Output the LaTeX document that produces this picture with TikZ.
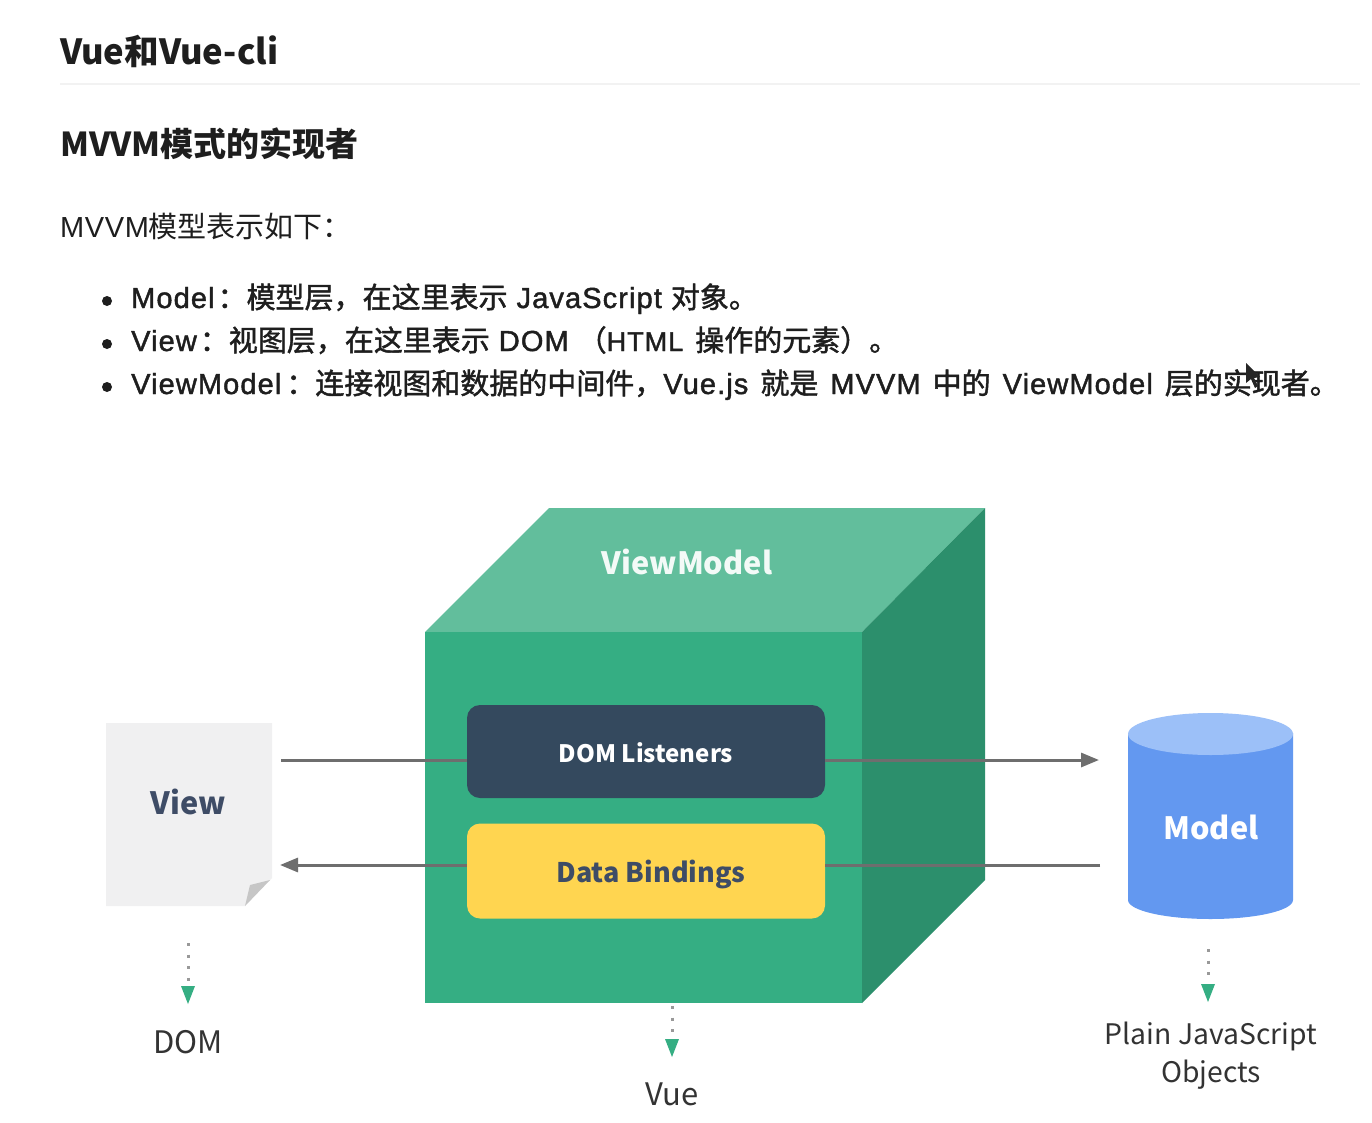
\documentclass[tikz,border=0pt]{standalone}
\usepackage{fontspec}
\setmainfont{Liberation Sans}[FakeBold=1.5,LetterSpace=3.8]
\newfontfamily\cjk{Noto Sans CJK SC}
\newfontfamily\cjkmed{Noto Sans CJK SC}[FakeBold=1.5]
\newfontfamily\plaintxt{Liberation Sans}[LetterSpace=2]
\newfontfamily\cjklight{Noto Sans CJK SC}
\newcommand{\zh}[1]{{\cjkmed\fontsize{29}{30}\selectfont #1}}
\newcommand{\zl}[1]{{\cjklight\fontsize{29}{30}\selectfont #1}}
\newcommand{\gp}{\hspace{9pt}}
\newcommand{\gq}{\hspace{12pt}}
\newcommand{\cl}{\hspace{3pt}}
\usetikzlibrary{arrows.meta,calc}
\definecolor{inkc}{HTML}{1E1E1E}
\definecolor{cubefront}{HTML}{35AE83}
\definecolor{cubetop}{HTML}{62BE9C}
\definecolor{cubeside}{HTML}{2C8F6C}
\definecolor{navybox}{HTML}{34495E}
\definecolor{yellowbox}{HTML}{FFD550}
\definecolor{paper}{HTML}{F0F0F1}
\definecolor{fold}{HTML}{C6C6C6}
\definecolor{cylbody}{HTML}{6398F0}
\definecolor{cyltop}{HTML}{9CC0F8}
\definecolor{linkgray}{HTML}{6E6E6E}
\definecolor{viewink}{HTML}{3E4C66}
\definecolor{caption}{HTML}{333333}
\tikzset{
  x=1pt,y=-1pt,
  txt/.style={anchor=base west,inner sep=0pt,text=inkc},
  itemtxt/.style={txt,font=\fontsize{29}{30}\selectfont},
  biglabel/.style={font=\cjk\bfseries\fontsize{30.7}{36}\selectfont,inner sep=0pt},
  smalllabel/.style={font=\cjk\bfseries\fontsize{24}{30}\selectfont,inner sep=0pt},
  midlabel/.style={font=\cjk\bfseries\fontsize{27}{32}\selectfont,inner sep=0pt},
  capt/.style={font=\cjk\fontsize{31}{38}\selectfont,text=caption,inner sep=0pt,align=center},
  link/.style={draw=linkgray,line width=3pt,-{Triangle[length=18pt,width=14pt,fill=linkgray]}},
  plain/.style={draw=linkgray,line width=3pt},
  dotlink/.style={draw=gray!80,line width=3pt,dash pattern=on 3pt off 8.6pt},
  tip/.style={fill=cubefront,draw=none},
  dotbullet/.style={circle,fill=inkc,inner sep=0pt,minimum size=10pt},
  innerbox/.style={rounded corners=13pt,minimum width=358pt,inner sep=0pt},
}
\begin{document}
\begin{tikzpicture}
\useasboundingbox[fill=white] (0,0) rectangle (1372,1123);
% headings
\node[txt,font=\cjk\bfseries\fontsize{34.6}{36}\selectfont] (title) at (60,65) {Vue和Vue-cli};
\fill[gray!10] (60,83) rectangle (1360,85);
\node[txt,font=\cjk\bfseries\fontsize{33}{36}\selectfont] (sub) at (60,157) {MVVM模式的实现者};
\node[txt,font=\plaintxt\fontsize{29}{30}\selectfont] (intro) at (60,237) {MVVM\zl{模型表示如下：}};
% list
\node[dotbullet] (b1) at (107,301) {};
\node[dotbullet] (b2) at (107,344) {};
\node[dotbullet] (b3) at (107,387) {};
\node[itemtxt] (i1) at (131,308) {Model\cl\zh{：模型层，在这里表示}\gp JavaScript\gp\zh{对象。}};
\node[itemtxt] (i2) at (131,351) {View\cl\zh{：视图层，在这里表示}\gp DOM\gp\zh{（}{\fontsize{27}{30}\selectfont HTML}\gq\zh{操作的元素）。}};
\node[itemtxt] (i3) at (131,394) {ViewModel\hspace{5pt}\zh{：连接视图和数据的中间件，}Vue.js\gq\zh{就是}\gq MVVM\gq\zh{中的}\gq ViewModel\gq\zh{层的实现者。}};
% cursor
\fill[black!85] (1246,363) -- (1246,383) -- (1251,379) -- (1255,388) -- (1258,386) -- (1254,378) -- (1260,377) -- cycle;
% cube
\fill[cubetop] (425,632) -- (549,508) -- (985,508) -- (862,632) -- cycle;
\fill[cubeside] (862,632) -- (985,508) -- (985,880) -- (862,1003) -- cycle;
\fill[cubefront] (425,632) rectangle (862,1003);
\node[biglabel,text=white!92!cubetop] (vm) at (687,562) {ViewModel};
% inner boxes
\node[innerbox,fill=navybox,minimum height=93pt] (listeners) at (646,751.5) {};
\node[smalllabel,text=white] (listlabel) at (646,753) {DOM Listeners};
\node[innerbox,fill=yellowbox,minimum height=95pt] (bindings) at (646,871) {};
\node[midlabel,text=viewink] (bindlabel) at (651,874) {Data Bindings};
% view page
\fill[paper] (106,723) -- (272,723) -- (272,878) -- (245,906) -- (106,906) -- cycle;
\fill[fold] (245,906) -- (250,885) -- (270,880) -- cycle;
\node[biglabel,text=viewink] (view) at (188,802) {View};
% cylinder
\fill[cylbody] (1128,733) -- (1128,900) arc[start angle=180,end angle=360,x radius=82.5pt,y radius=19pt] -- (1293,733) -- cycle;
\fill[cyltop] (1210.5,734) ellipse[x radius=82.5pt,y radius=21pt];
\node[biglabel,text=white] (model) at (1211,827) {Model};
% free ends
\coordinate (a1s) at (281,760);
\coordinate (a1e) at (1099,760);
\coordinate (a2e) at (280,865);
\coordinate (a2s) at (1100,865);
\draw[plain] (a1s) -- (a1s -| listeners.west);
\draw[link] (a1e -| listeners.east) -- (a1e);
\draw[link] (a2e -| bindings.west) -- (a2e);
\draw[plain] (a2s) -- (a2s -| bindings.east);
% captions
\node[capt] (dom) at (188,1042) {DOM};
\node[capt] (vue) at (672,1094) {Vue};
\node[capt,font=\cjk\fontsize{28.3}{38}\selectfont] (plain) at (1211,1056) {Plain JavaScript\\Objects};
% dotted pointers
\coordinate (d1) at (188,943);
\coordinate (d2) at (672,1006);
\coordinate (d3) at (1208,949);
\draw[dotlink] (d1) -- (188,988);
\draw[dotlink] (d2) -- (672,1038);
\draw[dotlink] (d3) -- (1208,982);
\fill[tip] (181,986) -- (195,986) -- (188,1004) -- cycle;
\fill[tip] (665,1039) -- (679,1039) -- (672,1057) -- cycle;
\fill[tip] (1201,984) -- (1215,984) -- (1208,1002) -- cycle;
\end{tikzpicture}
\end{document}
